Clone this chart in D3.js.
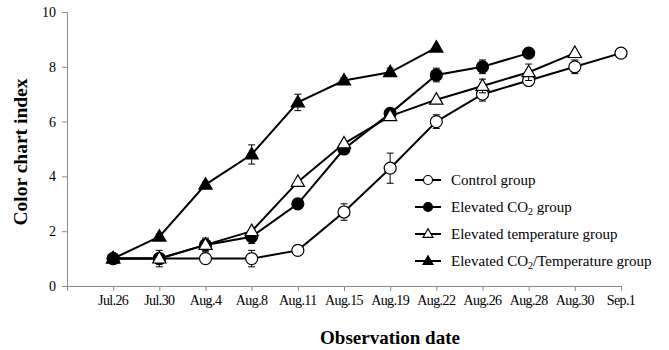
<!DOCTYPE html>
<html>
<head>
<meta charset="utf-8">
<script src="https://cdn.jsdelivr.net/npm/d3@7"></script>
<style>
  body { margin: 0; background: #fff; }
  svg text { font-family: "Liberation Serif", "Times New Roman", serif; fill: #000; }
  .xlab { font-size: 14px; letter-spacing: -0.6px; }
</style>
</head>
<body>
<div id="chart"></div>
<script>
// Data
const dates = ["Jul.26", "Jul.30", "Aug.4", "Aug.8", "Aug.11", "Aug.15", "Aug.19",
  "Aug.22", "Aug.26", "Aug.28", "Aug.30", "Sep.1"];

const control = [1, 1, 1, 1, 1.3, 2.7, 4.3, 6.0, 7.0, 7.5, 8.0, 8.5];
const controlErr = [0, 0.1, 0, 0.3, 0, 0.3, 0.55, 0.25, 0.25, 0.1, 0.25, 0];

const co2 = [1, 1, 1.5, 1.8, 3.0, 5.0, 6.3, 7.7, 8.0, 8.5];
const co2Err = [0, 0, 0.1, 0.25, 0, 0, 0, 0.25, 0.25, 0];

const temp = [1, 1, 1.5, 2.0, 3.8, 5.2, 6.2, 6.8, 7.3, 7.8, 8.5];
const tempErr = [0, 0.3, 0.25, 0, 0, 0, 0, 0, 0.25, 0.3, 0];

const co2Temp = [1, 1.8, 3.7, 4.8, 6.7, 7.5, 7.8, 8.7];
const co2TempErr = [0, 0.1, 0.1, 0.35, 0.3, 0.1, 0.15, 0];

const yTicks = [0, 2, 4, 6, 8, 10];

const series = [
  { name: "Control group", values: control, err: controlErr, shape: "circle", fill: "#fff" },
  { name: "Elevated CO2 group", values: co2, err: co2Err, shape: "circle", fill: "#000" },
  { name: "Elevated temperature group", values: temp, err: tempErr, shape: "triangle", fill: "#fff" },
  { name: "Elevated CO2/Temperature group", values: co2Temp, err: co2TempErr, shape: "triangle", fill: "#000" }
];

// The svg
const svg = d3.select("#chart")
  .append("svg")
  .attr("width", 669)
  .attr("height", 350);

const x = d3.scaleLinear().domain([0, 12]).range([67, 621]);
const y = d3.scaleLinear().domain([0, 10]).range([286, 12]);

const axisColor = "#8c8c8c";

// Y axis
const yAxis = svg.append("g").attr("transform", "translate(67,0)")
  .call(d3.axisLeft(y).tickValues(yTicks).tickSize(5).tickPadding(6).tickFormat(d3.format("d")));
yAxis.select(".domain").attr("stroke", axisColor);
yAxis.selectAll(".tick line").attr("stroke", axisColor);
yAxis.selectAll(".tick text").attr("font-size", 14);

// X axis
const xAxis = svg.append("g").attr("transform", "translate(0,286)")
  .call(d3.axisBottom(x).tickValues(d3.range(0, 13)).tickSize(5).tickFormat(""));
xAxis.select(".domain").attr("stroke", axisColor);
xAxis.selectAll(".tick line").attr("stroke", axisColor);

svg.append("g").selectAll("text")
  .data(dates)
  .enter()
  .append("text")
  .attr("class", "xlab")
  .attr("x", (d, i) => x(i + 1))
  .attr("y", 305)
  .attr("text-anchor", "middle")
  .text(d => d);

// Axis titles
svg.append("text")
  .attr("x", 390).attr("y", 344)
  .attr("text-anchor", "middle")
  .attr("font-size", 19).attr("font-weight", "bold")
  .text("Observation date");

svg.append("text")
  .attr("transform", "translate(27,152) rotate(-90)")
  .attr("text-anchor", "middle")
  .attr("font-size", 19.5).attr("font-weight", "bold")
  .text("Color chart index");

// Marker helper
const triangle = d3.symbol().type(d3.symbolTriangle);
function drawMarker(g, s, cx, cy, size) {
  if (s.shape === "circle") {
    g.append("circle").attr("cx", cx).attr("cy", cy).attr("r", size)
      .attr("fill", s.fill).attr("stroke", "#000").attr("stroke-width", 1.2);
  } else {
    g.append("path").attr("d", triangle.size(size * size * 2.1)())
      .attr("transform", "translate(" + cx + "," + (cy + size * 0.1) + ")")
      .attr("fill", s.fill).attr("stroke", "#000").attr("stroke-width", 1.2);
  }
}

const line = d3.line().x((d, i) => x(i + 1)).y(d => y(d));

series.forEach(function (s) {
  const g = svg.append("g");
  g.append("path").datum(s.values)
    .attr("d", line).attr("fill", "none").attr("stroke", "#000").attr("stroke-width", 2);

  // error bars
  s.values.forEach(function (v, i) {
    const e = s.err[i];
    if (!e) return;
    const cx = x(i + 1);
    g.append("line").attr("x1", cx).attr("x2", cx).attr("y1", y(v - e)).attr("y2", y(v + e))
      .attr("stroke", "#000").attr("stroke-width", 1);
    [v - e, v + e].forEach(function (t) {
      g.append("line").attr("x1", cx - 3.5).attr("x2", cx + 3.5).attr("y1", y(t)).attr("y2", y(t))
        .attr("stroke", "#000").attr("stroke-width", 1);
    });
  });

  s.values.forEach(function (v, i) {
    drawMarker(g, s, x(i + 1), y(v), 6);
  });
});

// Legend
const legendRows = [180, 207, 234, 261];
series.forEach(function (s, i) {
  const g = svg.append("g");
  const ly = legendRows[i];
  g.append("line").attr("x1", 415).attr("x2", 441).attr("y1", ly).attr("y2", ly)
    .attr("stroke", "#000").attr("stroke-width", 2);
  drawMarker(g, s, 428, ly, 4.5);
  const t = g.append("text").attr("x", 451).attr("y", ly + 5).attr("font-size", 15);
  const parts = s.name.split("CO2");
  t.append("tspan").text(parts[0]);
  if (parts.length > 1) {
    t.append("tspan").text("CO");
    t.append("tspan").text("2").attr("font-size", 10).attr("dy", 3);
    t.append("tspan").text(parts[1]).attr("dy", -3);
  }
});
</script>
</body>
</html>
